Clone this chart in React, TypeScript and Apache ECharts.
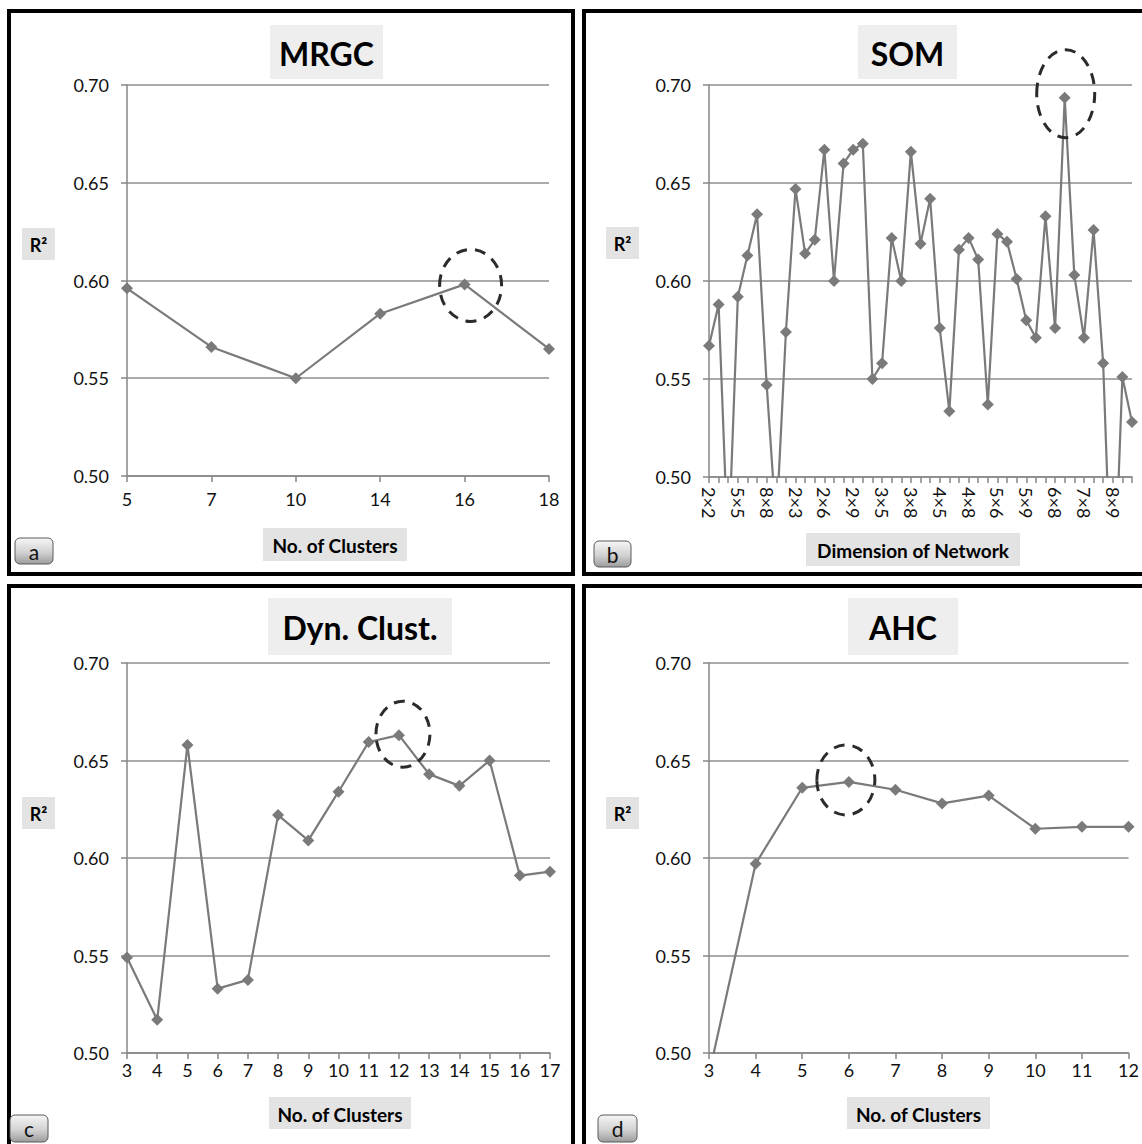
import React, { useEffect, useRef } from "react";
import * as echarts from "echarts";

// ---------- data ----------
const mrgcCats = ["5", "7", "10", "14", "16", "18"];
const mrgcVals = [0.596, 0.566, 0.55, 0.583, 0.598, 0.565];

const somCats = [
  "2×2", "3×3", "4×4", "5×5", "6×6", "7×7", "8×8", "9×9", "10×10",
  "2×3", "2×4", "2×5", "2×6", "2×7", "2×8", "2×9", "2×10",
  "3×4", "3×5", "3×6", "3×7", "3×8", "3×9", "3×10",
  "4×5", "4×6", "4×7", "4×8", "4×9", "4×10",
  "5×6", "5×7", "5×8", "5×9", "5×10",
  "6×7", "6×8", "6×9", "6×10",
  "7×8", "7×9", "7×10",
  "8×9", "8×10",
  "9×10",
];
const somVals = [
  0.567, 0.588, 0.46, 0.592, 0.613, 0.634, 0.547, 0.475, 0.574,
  0.647, 0.614, 0.621, 0.667, 0.6, 0.66, 0.667, 0.67,
  0.55, 0.558, 0.622, 0.6, 0.666, 0.619, 0.642,
  0.576, 0.5335, 0.616, 0.622, 0.611, 0.537,
  0.624, 0.62, 0.601, 0.58, 0.571,
  0.633, 0.576, 0.6935, 0.603,
  0.571, 0.626, 0.558,
  0.42, 0.551,
  0.528,
];

const dynCats = ["3", "4", "5", "6", "7", "8", "9", "10", "11", "12", "13", "14", "15", "16", "17"];
const dynVals = [0.549, 0.517, 0.658, 0.533, 0.5375, 0.622, 0.609, 0.634, 0.6595, 0.663, 0.643, 0.637, 0.65, 0.591, 0.593];

const ahcCats = ["3", "4", "5", "6", "7", "8", "9", "10", "11", "12"];
const ahcVals = [0.489, 0.597, 0.636, 0.639, 0.635, 0.628, 0.632, 0.615, 0.616, 0.616];

const panelTitles = ["MRGC", "SOM", "Dyn. Clust.", "AHC"];
const axisTitles = ["No. of Clusters", "Dimension of Network", "No. of Clusters", "No. of Clusters"];
const panelLetters = ["a", "b", "c", "d"];
const highlightIdx = [4, 37, 9, 3];

const Y_MIN = 0.5;
const Y_MAX = 0.7;
const Y_STEP = 0.05;

const FONT = "Lato, 'Open Sans', 'DejaVu Sans', sans-serif";
const AXIS_C = "#878787";
const LINE_C = "#7a7a7a";

export default function App() {
  const ref = useRef<HTMLDivElement>(null);

  useEffect(() => {
    if (!ref.current) return;
    const chart = echarts.init(ref.current, undefined, { renderer: "svg" });

    const cats = [mrgcCats, somCats, dynCats, ahcCats];
    const vals = [mrgcVals, somVals, dynVals, ahcVals];

    const grids = [
      { left: 127, right: 1142 - 549, top: 85, height: 391 },
      { left: 709, right: 1142 - 1132, top: 85, height: 392 },
      { left: 127, right: 1142 - 550, top: 663, height: 390 },
      { left: 709, right: 1142 - 1131, top: 663, height: 390 },
    ];
    const labelMargins = [14, 10, 8, 8];

    const xAxes = cats.map((c, i) => ({
      type: "category",
      gridIndex: i,
      data: c,
      boundaryGap: false,
      axisLine: { show: true, lineStyle: { color: AXIS_C, width: 1.5 } },
      axisTick: { show: true, length: 6, interval: 0, lineStyle: { color: AXIS_C, width: 1.5 } },
      splitLine: { show: false },
      axisLabel:
        i === 1
          ? { interval: 2, rotate: -90, fontSize: 18, fontFamily: FONT, color: "#111", margin: labelMargins[i] }
          : { interval: 0, fontSize: 18, fontFamily: FONT, color: "#111", margin: labelMargins[i] },
    }));

    const yAxes = cats.map((_, i) => ({
      type: "value",
      gridIndex: i,
      min: Y_MIN,
      max: Y_MAX,
      interval: Y_STEP,
      axisLine: { show: true, lineStyle: { color: AXIS_C, width: 1.5 } },
      axisTick: { show: true, length: 6, lineStyle: { color: AXIS_C, width: 1.5 } },
      splitLine: { show: true, lineStyle: { color: "#8e8e8e", width: 1.5 } },
      axisLabel: {
        formatter: (v: number) => v.toFixed(2),
        fontSize: 18,
        fontFamily: FONT,
        color: "#111",
        margin: 18,
      },
    }));

    const series = vals.map((v, i) => ({
      type: "line",
      xAxisIndex: i,
      yAxisIndex: i,
      data: v,
      symbol: "diamond",
      symbolSize: 12,
      showAllSymbol: true,
      clip: true,
      lineStyle: { color: LINE_C, width: 2.2 },
      itemStyle: { color: LINE_C },
      emphasis: { disabled: true },
    }));

    chart.setOption({
      animation: false,
      backgroundColor: "#ffffff",
      grid: grids,
      xAxis: xAxes,
      yAxis: yAxes,
      series,
    });

    // ---- graphic decorations ----
    const g: any[] = [];
    const panels = [
      { x: 9, y: 11, w: 564, h: 563 },
      { x: 584, y: 11, w: 600, h: 563 },
      { x: 9, y: 586, w: 564, h: 600 },
      { x: 584, y: 586, w: 600, h: 600 },
    ];
    panels.forEach((p) =>
      g.push({
        type: "rect",
        shape: { x: p.x, y: p.y, width: p.w, height: p.h },
        style: { fill: "none", stroke: "#000", lineWidth: 4 },
        silent: true,
      })
    );

    const txt = (x: number, y: number, text: string, size: number, weight: string, color = "#000") => ({
      type: "text",
      x,
      y,
      silent: true,
      style: {
        text,
        fontSize: size,
        fontWeight: weight,
        fontFamily: FONT,
        fill: color,
        align: "center",
        verticalAlign: "middle",
        textAlign: "center",
        textVerticalAlign: "middle",
      },
    });

    const titleBoxes = [
      { x: 270, y: 25, w: 113, h: 54 },
      { x: 858, y: 25, w: 99, h: 54 },
      { x: 268, y: 598, w: 184, h: 57 },
      { x: 848, y: 598, w: 110, h: 57 },
    ];
    titleBoxes.forEach((b, i) => {
      g.push({ type: "rect", silent: true, shape: { x: b.x, y: b.y, width: b.w, height: b.h }, style: { fill: "#eeeeee" } });
      g.push(txt(b.x + b.w / 2, b.y + b.h / 2 + 1, panelTitles[i], 32, "bold"));
    });

    const axisBoxes = [
      { x: 263, y: 528, w: 144, h: 33 },
      { x: 806, y: 533, w: 214, h: 33 },
      { x: 269, y: 1097, w: 142, h: 32 },
      { x: 847, y: 1097, w: 143, h: 32 },
    ];
    axisBoxes.forEach((b, i) => {
      g.push({ type: "rect", silent: true, shape: { x: b.x, y: b.y, width: b.w, height: b.h }, style: { fill: "#e3e3e3" } });
      g.push(txt(b.x + b.w / 2, b.y + b.h / 2 + 1, axisTitles[i], 19, "bold"));
    });

    const rBoxes = [
      { x: 22, y: 228, w: 33, h: 32 },
      { x: 606, y: 227, w: 33, h: 32 },
      { x: 22, y: 797, w: 33, h: 32 },
      { x: 606, y: 797, w: 33, h: 32 },
    ];
    rBoxes.forEach((b) => {
      g.push({ type: "rect", silent: true, shape: { x: b.x, y: b.y, width: b.w, height: b.h }, style: { fill: "#e3e3e3" } });
      g.push(txt(b.x + b.w / 2, b.y + b.h / 2 + 1, "R²", 18, "bold"));
    });

    const letterBoxes = [
      { x: 15, y: 538, w: 38, h: 26 },
      { x: 594, y: 541, w: 37, h: 26 },
      { x: 10, y: 1115, w: 38, h: 27 },
      { x: 598, y: 1115, w: 39, h: 27 },
    ];
    letterBoxes.forEach((b, i) => {
      g.push({
        type: "rect",
        silent: true,
        shape: { x: b.x, y: b.y, width: b.w, height: b.h, r: 5 },
        style: {
          fill: new echarts.graphic.LinearGradient(0, 0, 0, 1, [
            { offset: 0, color: "#f6f6f6" },
            { offset: 0.55, color: "#d2d2d2" },
            { offset: 1, color: "#9c9c9c" },
          ]),
          stroke: "#5a5a5a",
          lineWidth: 1,
        },
      });
      g.push(txt(b.x + b.w / 2, b.y + b.h / 2, panelLetters[i], 21, "normal", "#111"));
    });

    const circleOffsets = [
      { dx: 6, dy: 1, rx: 31, ry: 36 },
      { dx: 1, dy: -4, rx: 29, ry: 44 },
      { dx: 4, dy: -1, rx: 27, ry: 33 },
      { dx: -3, dy: -2, rx: 29, ry: 35 },
    ];
    highlightIdx.forEach((idx, i) => {
      const p = chart.convertToPixel({ xAxisIndex: i, yAxisIndex: i } as any, [idx, vals[i][idx]]) as number[];
      const c = circleOffsets[i];
      g.push({
        type: "ellipse",
        silent: true,
        z: 100,
        shape: { cx: p[0] + c.dx, cy: p[1] + c.dy, rx: c.rx, ry: c.ry },
        style: { fill: "none", stroke: "#2b2b2b", lineWidth: 3, lineDash: [11, 8] },
      });
    });

    chart.setOption({ graphic: g });

    return () => chart.dispose();
  }, []);

  return (
    <div
      ref={ref}
      style={{ position: "fixed", left: 0, top: 0, width: 1142, height: 1144, background: "#fff" }}
    />
  );
}
